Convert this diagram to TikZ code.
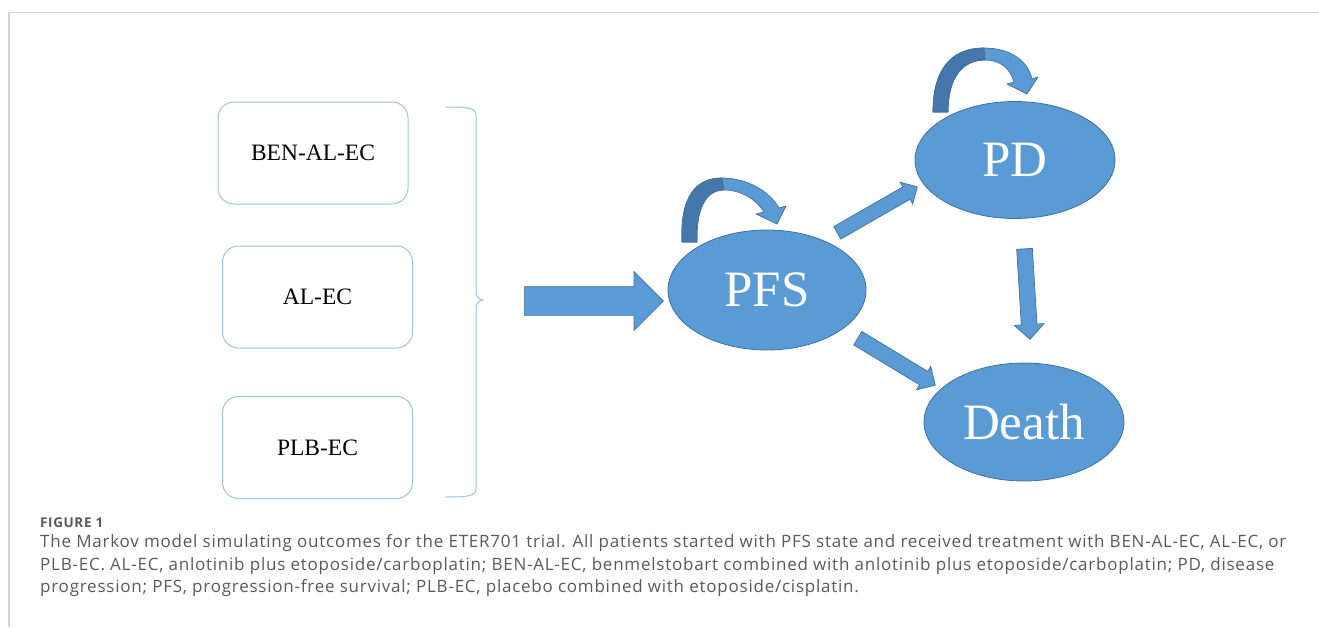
\documentclass[tikz,border=0pt]{standalone}
\usepackage{fontspec}
\setmainfont{Liberation Serif}
\newfontfamily\capfont[LetterSpace=4.5]{Open Sans}
\usetikzlibrary{shapes.geometric,shapes.arrows,calc}
\definecolor{stfill}{HTML}{5B9BD5}
\definecolor{stline}{HTML}{41719C}
\definecolor{stdark}{HTML}{4677AA}
\definecolor{boxline}{HTML}{9DC3E6}
\definecolor{frameline}{HTML}{D4D4D4}
\definecolor{captext}{HTML}{5A5A5A}
\begin{document}
\begin{tikzpicture}[x=1pt,y=-1pt,
  trt/.style={draw=boxline, line width=1pt, rounded corners=16pt, minimum width=190pt,
    minimum height=102pt, inner sep=0pt, font=\fontsize{23.5}{23.5}\selectfont},
  state/.style={ellipse, draw=stline, line width=0.8pt, fill=stfill, text=white,
    minimum width=200pt, minimum height=118pt, inner sep=0pt, font=\fontsize{51}{51}\selectfont},
  blockarr/.style={single arrow, draw=stline, line width=0.7pt, fill=stfill, inner sep=0pt,
    minimum width=0pt, single arrow tip angle=90, sloped, allow upside down, pos=0, anchor=tail},
  shaft/.style={text height=#1/2, text depth=#1/2},
  loopband/.style={fill=stfill, draw=stline, line width=0.7pt, line join=round},
  loopdark/.style={fill=stdark, draw=stline, line width=0.7pt, line join=round},
  brace/.style={draw=boxline, line width=1pt},
  capline/.style={anchor=base west, inner sep=0pt, text=captext, font=\capfont\fontsize{17}{17}\selectfont},
  caphead/.style={anchor=base west, inner sep=0pt, text=captext, font=\capfont\bfseries\fontsize{13.5}{13.5}\selectfont}
]
\useasboundingbox (0,0) rectangle (1319,627);
\fill[white] (0,0) rectangle (1319,627);
% frame
\draw[frameline, line width=1.5pt] (9,627) -- (9,12.5) -- (1319,12.5);

% treatment boxes
\node[trt] (ben) at (313,153) {BEN-AL-EC};
\node[trt] (alec) at (317.5,297) {AL-EC};
\node[trt] (plb) at (317.5,447.5) {PLB-EC};

% brace
\draw[brace] (445,107) .. controls (470,107) and (476,108) .. (476,116) -- (476,291)
  .. controls (476,297) and (478,299) .. (483,300) .. controls (478,301) and (476,303) .. (476,309)
  -- (476,488) .. controls (476,496) and (470,497) .. (445,497);

% states
\node[state, minimum width=198pt, minimum height=120pt] (pfs) at (767,290) {PFS};
\node[state, minimum height=117pt] (pd) at (1015,160) {PD};
\node[state] (death) at (1024,422) {Death};

% arrow endpoints
\coordinate (a0) at (524,301);  \coordinate (b0) at (663,301);
\coordinate (a1) at (837,233);  \coordinate (b1) at (917,187);
\coordinate (a2) at (857.5,338);\coordinate (b2) at (935,385);
\coordinate (a3) at (1024.5,248.5); \coordinate (b3) at (1030,339);

\path let \p1=($(b0)-(a0)$), \n1={veclen(\x1,\y1)} in
  (a0) -- node[blockarr, shaft=28pt, minimum height=\n1, single arrow head extend=15pt] (arr0) {} (b0);
\path let \p1=($(b1)-(a1)$), \n1={veclen(\x1,\y1)} in
  (a1) -- node[blockarr, shaft=13.6pt, minimum height=\n1, single arrow head extend=5.4pt] (arr1) {} (b1);
\path let \p1=($(b2)-(a2)$), \n1={veclen(\x1,\y1)} in
  (a2) -- node[blockarr, shaft=15pt, minimum height=\n1, single arrow head extend=5.8pt] (arr2) {} (b2);
\path let \p1=($(b3)-(a3)$), \n1={veclen(\x1,\y1)} in
  (a3) -- node[blockarr, shaft=15pt, minimum height=\n1, single arrow head extend=7pt] (arr3) {} (b3);

% self loop on PFS
\draw[loopband] (682,242) .. controls (680,195) and (697,178) .. (722,178)
  .. controls (748,178) and (770,192) .. (779,208) -- (786,206) -- (777,224) -- (756,214) -- (764,212)
  .. controls (755,198) and (740,190) .. (724,190) .. controls (705,190) and (696,210) .. (697,242) -- cycle;
\draw[loopdark] (682,242) .. controls (680,195) and (697,178) .. (722,178) -- (724,190)
  .. controls (705,190) and (696,210) .. (697,242) -- cycle;

% self loop on PD
\draw[loopband] (933,112) .. controls (933,65) and (955,48) .. (984,48)
  .. controls (1012,48) and (1028,62) .. (1032,79) -- (1038,77) -- (1027,94) -- (1007,84) -- (1014,82)
  .. controls (1010,68) and (1000,60) .. (985,60) .. controls (962,60) and (948,78) .. (948,112) -- cycle;
\draw[loopdark] (933,112) .. controls (933,65) and (955,48) .. (984,48) -- (985,60)
  .. controls (962,60) and (948,78) .. (948,112) -- cycle;

% caption
\node[caphead] (fig) at (40,527) {FIGURE 1};
\node[capline] (c1) at (40,547) {The Markov model simulating outcomes for the ETER701 trial. All patients started with PFS state and received treatment with BEN-AL-EC, AL-EC, or};
\node[capline] (c2) at (40,570) {PLB-EC. AL-EC, anlotinib plus etoposide/carboplatin; BEN-AL-EC, benmelstobart combined with anlotinib plus etoposide/carboplatin; PD, disease};
\node[capline] (c3) at (40,592) {progression; PFS, progression-free survival; PLB-EC, placebo combined with etoposide/cisplatin.};
\end{tikzpicture}
\end{document}
